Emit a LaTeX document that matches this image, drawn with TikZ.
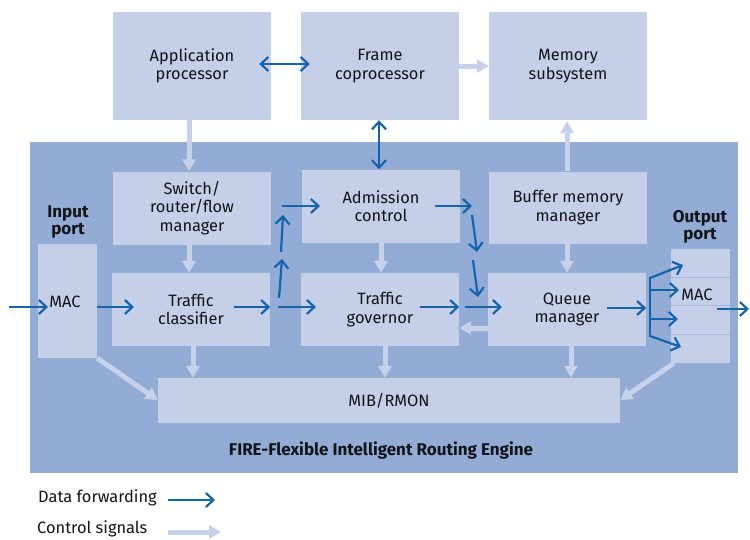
\documentclass[tikz,border=0pt]{standalone}
\usepackage{fontspec}
\setmainfont{Fira Sans}
\usetikzlibrary{arrows.meta,calc}
\definecolor{bgc}{RGB}{146,172,214}
\definecolor{boxc}{RGB}{197,207,232}
\definecolor{bluec}{RGB}{21,100,172}
\definecolor{lightc}{RGB}{199,209,233}
\definecolor{sepc}{RGB}{165,184,222}
\definecolor{txt}{RGB}{20,20,25}
\begin{document}
\begin{tikzpicture}[x=1pt,y=-1pt,
  font=\fontsize{16.4}{18.5}\selectfont,
  box/.style={fill=boxc, inner sep=0pt, align=center, text=txt},
  lbl/.style={inner sep=0pt, align=center, text=txt},
  blbl/.style={inner sep=0pt, align=center, text=txt, font=\fontsize{17}{17.5}\selectfont\bfseries},
  data/.style={draw=bluec, line width=2.2pt, -{Straight Barb[length=7.5pt,width=14pt,line width=2.2pt]}},
  data2/.style={draw=bluec, line width=2.2pt, {Straight Barb[length=7.5pt,width=14pt,line width=2.2pt]}-{Straight Barb[length=7.5pt,width=14pt,line width=2.2pt]}},
  wire/.style={draw=bluec, line width=2.2pt},
  ctrl/.style={draw=lightc, line width=5pt, -{Triangle[length=12pt,width=13pt]}}]
\useasboundingbox (0,0) rectangle (750,539);
\fill[white] (0,0) rectangle (750,539);
% background engine
\node[fill=bgc, minimum width=708pt, minimum height=331pt, inner sep=0pt] (fire) at (384,307.5) {};
% top boxes
\node[box, minimum width=158pt, minimum height=108pt] (app) at (192,66) {Application\\processor};
\node[box, minimum width=158pt, minimum height=108pt] (frame) at (380,66) {Frame\\coprocessor};
\node[box, minimum width=158pt, minimum height=108pt] (mem) at (568,66) {Memory\\subsystem};
% engine boxes
\node[box, minimum width=158pt, minimum height=73pt] (sw) at (192,208) {Switch/\\router/flow\\manager};
\node[box, minimum width=158pt, minimum height=73pt] (adm) at (381,206) {Admission\\control};
\node[box, minimum width=158pt, minimum height=72pt] (buf) at (568,207.5) {Buffer memory\\manager};
\node[box, minimum width=59pt, minimum height=114pt] (inmac) at (67.5,301) {};
\node[lbl] (inmaclbl) at (65,302) {MAC};
\node[box, minimum width=158pt, minimum height=73pt] (cls) at (191,309.5) {Traffic\\classifier};
\node[box, minimum width=158pt, minimum height=73pt] (gov) at (380,309.5) {Traffic\\governor};
\node[box, minimum width=158pt, minimum height=73pt] (que) at (567,309.5) {Queue\\manager};
\node[box, minimum width=59pt, minimum height=114pt] (outmac) at (700.5,306) {};
\draw[sepc, line width=1pt] (671,277) -- (730,277) (671,305.5) -- (730,305.5) (671,334) -- (730,334);
\node[lbl] (outmaclbl) at (697,295) {MAC};
\node[box, minimum width=462pt, minimum height=45pt] (mib) at (389,400.5) {MIB/RMON};
% labels
\node[blbl] (inport) at (68,222) {Input\\port};
\node[blbl] (outport) at (700,227) {Output\\port};
\node[blbl] (firelbl) at (381,450) {FIRE-Flexible Intelligent Routing Engine};
% control signals (light arrows)
\draw[ctrl] (app.south -| 189,0) -- (sw.north -| 189,0);
\draw[ctrl] (sw.south -| 189,0) -- (cls.north -| 189,0);
\draw[ctrl] (cls.south -| 193,0) -- (mib.north -| 193,0);
\draw[ctrl] (adm.south -| 381,0) -- (gov.north -| 381,0);
\draw[ctrl] (gov.south -| 385,0) -- (mib.north -| 385,0);
\draw[ctrl] (buf.south -| 567,0) -- (que.north -| 567,0);
\draw[ctrl] (que.south -| 571,0) -- (mib.north -| 571,0);
\draw[ctrl] (buf.north -| 567,0) -- ([yshift=-1pt]mem.south -| 567,0);
\draw[ctrl] (frame.east |- 0,66) -- (mem.west |- 0,66);
\draw[ctrl] (que.west |- 0,328) -- (gov.east |- 0,328);
\draw[ctrl] (inmac.south east) -- (mib.west |- 0,400);
\draw[ctrl] ([xshift=3pt]outmac.south west) -- (mib.east |- 0,400);
% data forwarding (blue arrows)
\coordinate (inL) at (9,307);
\coordinate (outR) at (749,309);
\draw[data] (inL) -- (48,307);
\draw[data] (inmac.east |- 0,307) -- (134,307);
\draw[data] (234,307) -- (cls.east |- 0,307);
\draw[data] (278,307) -- (316,307);
\draw[data] (279,298) -- (282,259);
\draw[data] (281,252) -- (283,215);
\draw[data] (282,206) -- (320,206);
\draw[data] (435,206) -- (472,206);
\draw[data] (472,215) -- (477,252);
\draw[data] (473,260) -- (478,297);
\draw[data] (420,307) -- (gov.east |- 0,307);
\draw[data] (465,307) -- (502,307);
\draw[data] (607,308) -- (que.east |- 0,308);
\draw[wire] (650,277) -- (650,337);
\draw[data] (650,278) -- (683,265);
\draw[data] (650,290) -- (679,290);
\draw[data] (650,319) -- (678,319);
\draw[data] (650,336) -- (681,347);
\draw[data] (717,309) -- (outR);
\draw[data2] ([xshift=-12pt]app.east |- 0,64) -- ([xshift=9pt]frame.west |- 0,64);
\draw[data2] (frame.south -| 379,0) -- (adm.north -| 379,0);
% legend
\node[lbl, anchor=west] (lg1) at (38,498) {Data forwarding};
\node[lbl, anchor=west] (lg2) at (37,529) {Control signals};
\draw[data] (168,500) -- (215,500);
\draw[ctrl] (168,532) -- (221,532);
\end{tikzpicture}
\end{document}
